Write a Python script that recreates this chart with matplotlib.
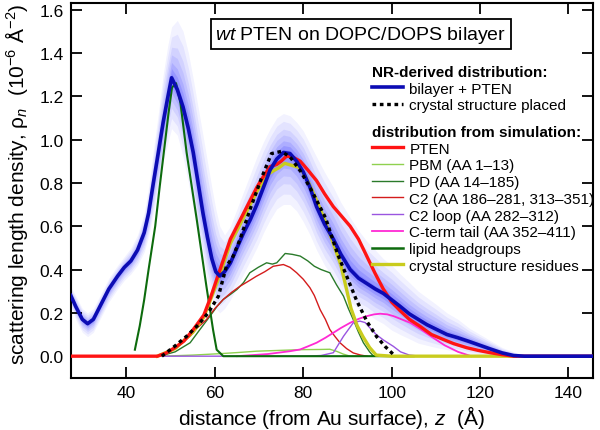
import numpy as np
import matplotlib
matplotlib.use("Agg")
import matplotlib.pyplot as plt

plt.rcParams['font.family'] = ['Liberation Sans', 'DejaVu Sans']
plt.rcParams['mathtext.fontset'] = 'custom'
plt.rcParams['mathtext.rm'] = 'Liberation Sans'
plt.rcParams['mathtext.it'] = 'Liberation Sans:italic'
plt.rcParams['mathtext.bf'] = 'Liberation Sans:bold'

# NR-derived bilayer + PTEN profile (median) and its confidence band
bz = [27.4, 28.5, 30, 31.2, 32.5, 34, 36, 38, 39.5, 41, 42.5, 44, 45, 46, 47.2, 48.3, 49.3, 50.2,
      51.5, 52.8, 54, 55.1, 56.2, 57.3, 58.3, 59.3, 60.2, 61.1, 62.2, 63.5, 65, 66.5, 68, 69.5, 71,
      72.5, 74, 75.5, 77, 78.5, 80, 81.5, 83, 84.8, 86.8, 88.5, 90.6, 92.5, 94.4, 96.3, 98.1, 100,
      101.9, 104, 106, 108, 110, 112.5, 115, 117.5, 120, 122.5, 125, 127.6, 130, 145.5]
b_mid = [0.28, 0.23, 0.17, 0.15, 0.17, 0.23, 0.31, 0.37, 0.41, 0.44, 0.49, 0.57, 0.66, 0.79, 0.94,
         1.08, 1.19, 1.285, 1.23, 1.15, 1.05, 0.94, 0.80, 0.66, 0.55, 0.45, 0.39, 0.37, 0.39, 0.43,
         0.50, 0.57, 0.63, 0.70, 0.78, 0.86, 0.91, 0.94, 0.935, 0.90, 0.85, 0.78, 0.69, 0.61, 0.54,
         0.47, 0.40, 0.36, 0.335, 0.31, 0.29, 0.26, 0.23, 0.195, 0.17, 0.145, 0.125, 0.10, 0.085,
         0.068, 0.05, 0.032, 0.015, 0.003, 0.0, 0.0]
b_hi = [0.32, 0.28, 0.22, 0.20, 0.22, 0.28, 0.36, 0.42, 0.46, 0.50, 0.56, 0.66, 0.78, 0.94, 1.12,
        1.30, 1.43, 1.52, 1.55, 1.50, 1.40, 1.28, 1.15, 1.02, 0.90, 0.78, 0.68, 0.60, 0.56, 0.60,
        0.68, 0.76, 0.84, 0.92, 0.99, 1.05, 1.10, 1.12, 1.11, 1.08, 1.04, 0.98, 0.92, 0.85, 0.78,
        0.71, 0.64, 0.58, 0.53, 0.49, 0.45, 0.42, 0.38, 0.34, 0.30, 0.27, 0.24, 0.20, 0.17, 0.13,
        0.10, 0.07, 0.04, 0.02, 0.005, 0.0]
b_lo = [0.23, 0.17, 0.11, 0.09, 0.11, 0.17, 0.25, 0.31, 0.35, 0.38, 0.42, 0.48, 0.55, 0.65, 0.77,
        0.90, 0.98, 1.05, 1.02, 0.92, 0.80, 0.68, 0.55, 0.45, 0.35, 0.28, 0.22, 0.20, 0.22, 0.26,
        0.32, 0.38, 0.44, 0.50, 0.57, 0.63, 0.68, 0.70, 0.70, 0.67, 0.62, 0.56, 0.49, 0.42, 0.36,
        0.30, 0.25, 0.22, 0.20, 0.17, 0.15, 0.12, 0.10, 0.08, 0.06, 0.05, 0.04, 0.03, 0.02, 0.01,
        0.005, 0.0, 0.0, 0.0, 0.0, 0.0]

# crystal structure placed (dotted)
cz = [48, 50.9, 53.6, 56, 58.5, 60.8, 62.6, 64.1, 65.7, 68, 70.5, 72.8, 75, 77, 79.5, 82, 85, 87.8,
      90, 92, 94.4, 96.6, 98.5, 100.8]
cy = [0, 0.046, 0.092, 0.14, 0.2, 0.277, 0.415, 0.46, 0.54, 0.68, 0.82, 0.935, 0.945, 0.92, 0.85,
      0.76, 0.64, 0.47, 0.36, 0.26, 0.16, 0.09, 0.045, 0.0]

# simulation: PTEN total
pten_z = [27.4, 47.0, 49, 51, 53, 55, 57.5, 59, 60.5, 62, 63.5, 65, 66.5, 68, 69.5, 71, 72.5, 74,
          75, 76.2, 77.5, 79.3, 81, 83, 84.8, 86.8, 88.5, 90.6, 92.5, 94.4, 96.3, 98.1, 100, 101.9,
          104, 106.4, 109, 111.7, 114, 117, 119.5, 122.3, 125, 127.6, 145.5]
pten_y = [0, 0, 0.015, 0.04, 0.07, 0.12, 0.19, 0.27, 0.36, 0.45, 0.54, 0.60, 0.66, 0.72, 0.78,
          0.83, 0.875, 0.885, 0.90, 0.923, 0.92, 0.90, 0.86, 0.81, 0.75, 0.69, 0.65, 0.60, 0.54,
          0.46, 0.38, 0.31, 0.25, 0.21, 0.17, 0.138, 0.10, 0.077, 0.058, 0.039, 0.027, 0.016, 0.007,
          0.0, 0.0]

pbm_z = [48, 55, 61.5, 66, 69.4, 75, 79.3, 83.8, 86, 87.6, 89, 90.6, 108]
pbm_y = [0, 0.005, 0.012, 0.018, 0.023, 0.027, 0.03, 0.031, 0.032, 0.022, 0.01, 0, 0]

pd_z = [47.5, 51, 54.4, 56.5, 58.9, 60.5, 61.9, 63.5, 65, 66.5, 67.9, 69.8, 71.7, 73, 74, 75.9,
        77.5, 79.3, 81, 82.5, 84, 86, 87.5, 89.1, 90.2, 91.3, 92.5, 93.6, 95, 95.9, 110]
pd_y = [0, 0.02, 0.062, 0.12, 0.185, 0.23, 0.262, 0.285, 0.308, 0.34, 0.385, 0.41, 0.431, 0.425,
        0.431, 0.474, 0.47, 0.462, 0.44, 0.415, 0.40, 0.385, 0.33, 0.277, 0.22, 0.169, 0.11,
        0.062, 0.02, 0.0, 0.0]

c2_z = [47.5, 51, 54.4, 56, 58.1, 60, 61.9, 63.8, 65.7, 67.5, 69.4, 71.3, 73.2, 75.5, 77, 78.5, 80,
        81.5, 82.5, 83.8, 85, 86, 87.2, 88.3, 89.8, 91.3, 93, 94.4]
c2_y = [0, 0.04, 0.092, 0.13, 0.169, 0.22, 0.262, 0.295, 0.323, 0.345, 0.369, 0.39, 0.415, 0.423,
        0.41, 0.385, 0.355, 0.316, 0.28, 0.215, 0.17, 0.123, 0.09, 0.062, 0.035, 0.015, 0.005, 0]

loop_z = [47, 80, 84, 86.8, 89.1, 91.3, 92.8, 94, 95.1, 96.5, 98.1, 100.4, 102, 104, 106.4]
loop_y = [0, 0, 0.003, 0.016, 0.092, 0.154, 0.162, 0.155, 0.13, 0.1, 0.075, 0.045, 0.02, 0.005, 0]

tail_z = [65, 72, 77, 79.3, 81, 83, 85, 86.8, 88.5, 90.6, 92.5, 94.4, 96, 97.4, 99, 100.4, 102,
          104.2, 106.5, 109, 112, 115, 118]
tail_y = [0, 0.01, 0.023, 0.031, 0.045, 0.062, 0.085, 0.108, 0.13, 0.154, 0.172, 0.185, 0.193,
          0.196, 0.193, 0.185, 0.172, 0.154, 0.125, 0.09, 0.05, 0.02, 0]

head_z = [41.9, 43, 44, 45, 46.5, 47.5, 48.5, 49.5, 50.3, 51.2, 52.2, 53.6, 55.9, 58.1, 59.6, 60.4,
          61.9, 105]
head_y = [0.03, 0.14, 0.26, 0.40, 0.60, 0.78, 0.95, 1.12, 1.24, 1.26, 1.17, 0.94, 0.63, 0.32, 0.12,
          0.03, 0.0, 0.0]

xtal_z = [47.0, 51, 55, 57.5, 60.5, 63.5, 66.5, 69.5, 72, 73.2, 74.5, 75.8, 77.5, 79.3, 81, 83,
          85, 86.8, 88.5, 90.8, 92.2, 93.5, 95, 96.5, 100, 128]
xtal_y = [0, 0.035, 0.11, 0.18, 0.34, 0.52, 0.64, 0.76, 0.84, 0.855, 0.87, 0.89, 0.88, 0.87, 0.81,
          0.72, 0.62, 0.52, 0.42, 0.22, 0.14, 0.09, 0.04, 0.005, 0, 0]

fig = plt.figure(figsize=(6, 4.31), dpi=100)
ax = fig.add_axes([0.118, 0.121, 0.870, 0.8697])

# confidence band drawn as stacked translucent layers, denser toward the middle
mid = np.array(b_mid)
hi = np.array(b_hi)
lo = np.array(b_lo)
for f, a in zip([1.0, 0.8, 0.6, 0.45, 0.3, 0.18, 0.08], [0.05, 0.06, 0.07, 0.08, 0.1, 0.12, 0.14]):
    ax.fill_between(bz, mid - f * (mid - lo), mid + f * (hi - mid),
                    color='#0000ff', alpha=a, lw=0, zorder=1)

ax.plot(pbm_z, pbm_y, color='#8fd14f', lw=1.0, zorder=3)
ax.plot(pd_z, pd_y, color='#2a7a2a', lw=1.0, zorder=3)
ax.plot(c2_z, c2_y, color='#d41c1c', lw=1.0, zorder=3)
ax.plot(loop_z, loop_y, color='#9a55e0', lw=1.0, zorder=3)
ax.plot(tail_z, tail_y, color='#ff2ad4', lw=1.3, zorder=3)
ax.plot(head_z, head_y, color='#0d6b0d', lw=1.5, zorder=3)
ax.plot(xtal_z, xtal_y, color='#c9cc1e', lw=2.4, zorder=4)
ax.plot(pten_z, pten_y, color='#ff1414', lw=2.4, zorder=5)
ax.plot(bz, b_mid, color='#0c0cb4', lw=2.6, zorder=6)
ax.plot(cz, cy, color='black', lw=2.4, ls=(0, (1.1, 1.1)), zorder=7)

ax.set_xlim(27.4, 145.5)
ax.set_ylim(-0.1, 1.63)
ax.set_xticks([40, 60, 80, 100, 120, 140])
ax.set_yticks([0.0, 0.2, 0.4, 0.6, 0.8, 1.0, 1.2, 1.4, 1.6])
ax.set_yticklabels(['%.1f' % v for v in ax.get_yticks()])
ax.tick_params(direction='in', top=True, right=True, length=8, width=1.3,
               labelsize=12.5, pad=5)
for s in ax.spines.values():
    s.set_linewidth(1.5)

ax.set_xlabel('distance (from Au surface), $z$  (Å)', fontsize=15, labelpad=2)
ax.set_ylabel('scattering length density, ρ$_n$  (10$^{-6}$ Å$^{-2}$)', fontsize=15)
ax.yaxis.set_label_coords(-0.078, 0.52)

ax.text(0.556, 0.917, '$\\mathit{wt}$ PTEN on DOPC/DOPS bilayer', transform=ax.transAxes,
        ha='center', va='center', fontsize=14,
        bbox=dict(boxstyle='square,pad=0.25', fc='white', ec='black', lw=1.3))

# legends
h_nr = [plt.Line2D([], [], color='#0c0cb4', lw=2.6),
        plt.Line2D([], [], color='black', lw=2.4, ls=(0, (1.1, 1.1)))]
l_nr = ['bilayer + PTEN', 'crystal structure placed']
leg1 = ax.legend(h_nr, l_nr, title='NR-derived distribution:', loc='upper left',
                 bbox_to_anchor=(0.577, 0.835), frameon=False, fontsize=11,
                 title_fontproperties={'weight': 'bold', 'size': 11}, alignment='left',
                 handlelength=2.0, handletextpad=0.45, labelspacing=0.18, borderpad=0,
                 borderaxespad=0)
ax.add_artist(leg1)

h_sim = [plt.Line2D([], [], color='#ff1414', lw=2.4),
         plt.Line2D([], [], color='#8fd14f', lw=1.0),
         plt.Line2D([], [], color='#2a7a2a', lw=1.0),
         plt.Line2D([], [], color='#d41c1c', lw=1.0),
         plt.Line2D([], [], color='#9a55e0', lw=1.0),
         plt.Line2D([], [], color='#ff2ad4', lw=1.3),
         plt.Line2D([], [], color='#0d6b0d', lw=1.8),
         plt.Line2D([], [], color='#c9cc1e', lw=2.4)]
l_sim = ['PTEN', 'PBM (AA 1–13)', 'PD (AA 14–185)', 'C2 (AA 186–281, 313–351)',
         'C2 loop (AA 282–312)', 'C-term tail (AA 352–411)', 'lipid headgroups',
         'crystal structure residues']
leg2 = ax.legend(h_sim, l_sim, title='distribution from simulation:', loc='upper left',
                 bbox_to_anchor=(0.577, 0.675), frameon=False, fontsize=11,
                 title_fontproperties={'weight': 'bold', 'size': 11}, alignment='left',
                 handlelength=2.0, handletextpad=0.45, labelspacing=0.18, borderpad=0,
                 borderaxespad=0)

fig.savefig('out.png', dpi=100)
